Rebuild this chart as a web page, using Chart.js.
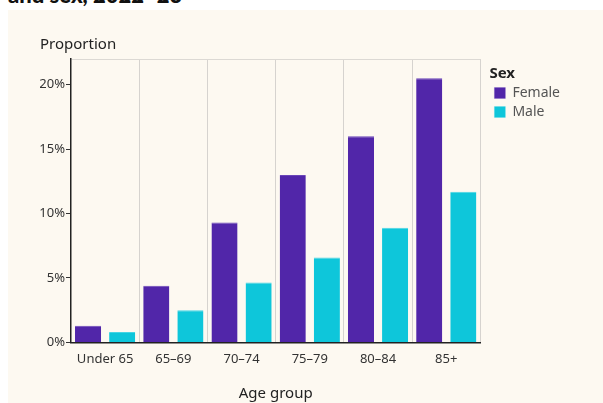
<!DOCTYPE html>
<html>
<head>
<meta charset="utf-8">
<script src="https://cdn.jsdelivr.net/npm/chart.js@4.4.1/dist/chart.umd.min.js"></script>
<style>
  body { margin: 0; background: #ffffff; width: 603px; height: 403px; overflow: hidden; position: relative; }
  #head { position: absolute; left: 8px; top: -16px; font-family: "Lato", "Open Sans", sans-serif; font-weight: 900; font-size: 22px; line-height: 1; color: #111; }
  #panel { position: absolute; left: 8px; top: 10px; width: 595px; height: 393px; background: #fdf9f1; }
</style>
</head>
<body>
<div id="head">and sex, 2022–23</div>
<div id="panel"><canvas id="chart" width="595" height="393"></canvas></div>
<script>
// chart values (percent)
var ageGroups = ['Under 65', '65–69', '70–74', '75–79', '80–84', '85+'];
var female = [1.3, 4.4, 9.3, 13.0, 16.0, 20.5];
var male = [0.8, 2.5, 4.65, 6.6, 8.9, 11.7];
var yTicks = [0, 5, 10, 15, 20];

var font = '"Noto Sans", "Open Sans", sans-serif';

// nudge the legend a little away from the plot
var legendGap = {
    id: 'legendGap',
    beforeDraw: function (chart) {
        var lg = chart.legend;
        var w = lg.width;
        lg.left = chart.chartArea.right + 9;
        lg.right = lg.left + w;
    }
};

var ctx = document.getElementById('chart').getContext('2d');
var chart = new Chart(ctx, {
    type: 'bar',
    data: {
        labels: ageGroups,
        datasets: [{
            label: 'Female',
            data: female,
            backgroundColor: '#5126a9',
            borderColor: '#6a45b8',
            borderWidth: { top: 1, left: 0, right: 0, bottom: 0 },
            categoryPercentage: 1,
            barPercentage: 0.765
        }, {
            label: 'Male',
            data: male,
            backgroundColor: '#0ec6da',
            borderColor: '#45d5e4',
            borderWidth: { top: 1, left: 0, right: 0, bottom: 0 },
            categoryPercentage: 1,
            barPercentage: 0.765
        }]
    },
    plugins: [legendGap],
    options: {
        responsive: false,
        animation: false,
        layout: { padding: { left: 32, right: 42, top: 0, bottom: 0 } },
        plugins: {
            title: {
                display: true,
                text: 'Proportion',
                align: 'start',
                color: '#222',
                font: { family: font, size: 15, weight: 'normal' },
                padding: { top: 26, bottom: 5 }
            },
            legend: {
                position: 'right',
                align: 'start',
                title: {
                    display: true,
                    text: 'Sex',
                    position: 'start',
                    color: '#222',
                    font: { family: font, size: 15, weight: 'bold' },
                    padding: { top: 56, bottom: -3 }
                },
                labels: {
                    boxWidth: 11,
                    boxHeight: 11,
                    padding: 5,
                    color: '#555',
                    font: { family: font, size: 14 }
                }
            },
            tooltip: { enabled: false }
        },
        scales: {
            x: {
                grid: { offset: true, color: '#d6d3cf', drawTicks: false },
                border: { display: true, color: '#222', width: 1.5 },
                ticks: { color: '#333', font: { family: font, size: 13 }, padding: 9 },
                title: { display: true, text: 'Age group', color: '#222', font: { family: font, size: 15 }, padding: { top: 9, bottom: 0 } }
            },
            y: {
                min: 0,
                max: 22,
                afterBuildTicks: function (scale) {
                    scale.ticks = yTicks.concat([22]).map(function (v) { return { value: v }; });
                },
                afterFit: function (scale) { scale.width = 31; },
                grid: {
                    color: function (c) { return c.tick && c.tick.value === 22 ? '#dcd9d4' : 'rgba(0,0,0,0)'; },
                    tickColor: function (c) { return c.tick && c.tick.value === 22 ? 'rgba(0,0,0,0)' : '#333'; },
                    tickLength: 5
                },
                border: { display: true, color: '#222', width: 1.5 },
                ticks: {
                    color: '#333',
                    font: { family: font, size: 13 },
                    padding: 1,
                    callback: function (v) { return yTicks.indexOf(v) >= 0 ? v + '%' : ''; }
                }
            }
        }
    }
});
</script>
</body>
</html>
